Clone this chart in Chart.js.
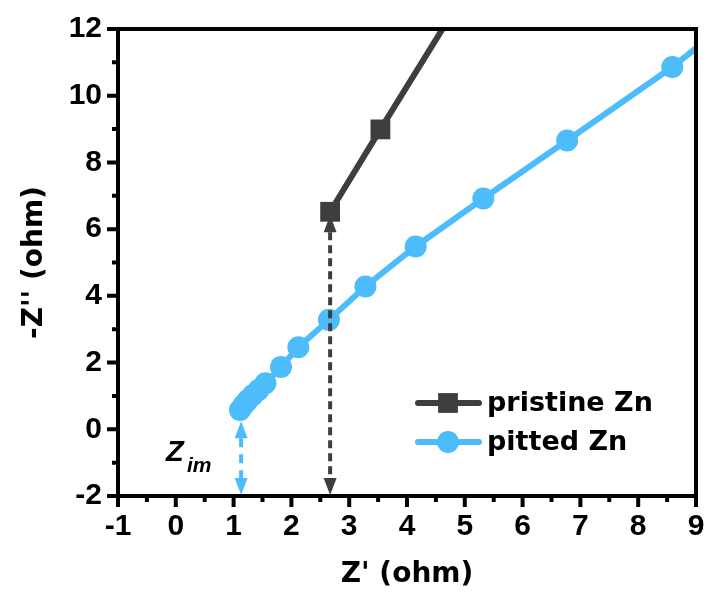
<!DOCTYPE html>
<html lang="en">
<head>
<meta charset="UTF-8">
<title>Nyquist plot - pristine vs pitted Zn</title>
<script src="https://cdn.jsdelivr.net/npm/chart.js"></script>
<style>
    html, body { margin: 0; padding: 0; background: #fff; }
    #nyquist { display: block; }
</style>
</head>
<body>
<canvas id="nyquist" width="710" height="601"></canvas>
<script>
    // values (ohm)
    const seriesNames = ['pristine Zn', 'pitted Zn'];
    const pristineX = [2.67, 3.54, 4.90];
    const pristineY = [6.52, 8.99, 12.8];
    const pittedX = [1.11, 1.17, 1.24, 1.33, 1.43, 1.55, 1.82, 2.12, 2.65, 3.28, 4.15, 5.32, 6.77, 8.59, 10.5];
    const pittedY = [0.58, 0.72, 0.86, 1.02, 1.18, 1.38, 1.87, 2.46, 3.28, 4.28, 5.48, 6.92, 8.66, 10.86, 13.5];
    const xTicks = [-1, 0, 1, 2, 3, 4, 5, 6, 7, 8, 9];
    const yTicks = [-2, 0, 2, 4, 6, 8, 10, 12];

    // dashed double arrows marking Z_im on the real axis
    const arrowX = [1.13, 2.67];
    const arrowTop = [0.24, 6.42];

    const darkGray = '#3e3e3e';
    const skyBlue = '#4dbcfa';
    const tickFont = { family: 'Liberation Sans', weight: 'bold', size: 30 };
    const titleFont = { family: 'DejaVu Sans', weight: 'bold', size: 28 };

    function toPoints(xs, ys) {
        return xs.map((x, i) => ({ x: x, y: ys[i] }));
    }

    function drawArrow(ctx, x, yTop, yBottom, color, dash) {
        const head = 17, half = 6.5;
        ctx.save();
        ctx.strokeStyle = color;
        ctx.fillStyle = color;
        ctx.lineWidth = 4;
        ctx.setLineDash(dash);
        ctx.beginPath();
        ctx.moveTo(x, yTop + head);
        ctx.lineTo(x, yBottom - head);
        ctx.stroke();
        ctx.setLineDash([]);
        ctx.beginPath();
        ctx.moveTo(x, yTop);
        ctx.lineTo(x - half, yTop + head);
        ctx.lineTo(x + half, yTop + head);
        ctx.closePath();
        ctx.fill();
        ctx.beginPath();
        ctx.moveTo(x, yBottom);
        ctx.lineTo(x - half, yBottom - head);
        ctx.lineTo(x + half, yBottom - head);
        ctx.closePath();
        ctx.fill();
        ctx.restore();
    }

    const decorations = {
        id: 'decorations',
        afterDatasetsDraw(chart) {
            const ctx = chart.ctx;
            const area = chart.chartArea;
            const xs = chart.scales.x, ys = chart.scales.y;

            // Z_im arrows
            drawArrow(ctx, xs.getPixelForValue(arrowX[0]), ys.getPixelForValue(arrowTop[0]), area.bottom - 1, skyBlue, [9, 7]);
            drawArrow(ctx, xs.getPixelForValue(arrowX[1]), ys.getPixelForValue(arrowTop[1]), area.bottom - 1, darkGray, [8, 5]);

            // frame
            ctx.save();
            ctx.strokeStyle = '#000';
            ctx.lineWidth = 4;
            ctx.strokeRect(area.left, area.top, area.right - area.left, area.bottom - area.top);

            // major and minor tick marks, pointing out
            ctx.lineWidth = 4;
            ctx.beginPath();
            xTicks.forEach((v, i) => {
                const px = xs.getPixelForValue(v);
                ctx.moveTo(px, area.bottom);
                ctx.lineTo(px, area.bottom + 11);
                if (i < xTicks.length - 1) {
                    const mx = xs.getPixelForValue(v + 0.5);
                    ctx.moveTo(mx, area.bottom);
                    ctx.lineTo(mx, area.bottom + 6);
                }
            });
            yTicks.forEach((v, i) => {
                const py = ys.getPixelForValue(v);
                ctx.moveTo(area.left, py);
                ctx.lineTo(area.left - 11, py);
                if (i < yTicks.length - 1) {
                    const my = ys.getPixelForValue(v + 1);
                    ctx.moveTo(area.left, my);
                    ctx.lineTo(area.left - 6, my);
                }
            });
            ctx.stroke();

            // Z_im label
            ctx.fillStyle = '#000';
            ctx.textBaseline = 'alphabetic';
            ctx.font = 'italic bold 29px "Liberation Sans"';
            ctx.fillText('Z', 166, 461);
            ctx.font = 'italic bold 21px "Liberation Sans"';
            ctx.fillText('im', 187, 472);

            // legend
            const legendY = [403, 442];
            chart.data.datasets.forEach((ds, i) => {
                const y = legendY[i];
                ctx.strokeStyle = ds.borderColor;
                ctx.fillStyle = ds.backgroundColor;
                ctx.lineWidth = 6;
                ctx.lineCap = 'round';
                ctx.beginPath();
                ctx.moveTo(418, y);
                ctx.lineTo(479, y);
                ctx.stroke();
                Chart.helpers.drawPoint(ctx, { pointStyle: ds.pointStyle, radius: ds.pointRadius, rotation: 0, borderWidth: 0 }, 448, y);
                ctx.fillStyle = '#000';
                ctx.font = 'bold 27px "DejaVu Sans"';
                ctx.textBaseline = 'middle';
                ctx.fillText(seriesNames[i], 487, y + 1);
            });
            ctx.restore();
        }
    };

    new Chart(document.getElementById('nyquist'), {
        type: 'scatter',
        data: {
            datasets: [
                {
                    label: seriesNames[0],
                    data: toPoints(pristineX, pristineY),
                    showLine: true,
                    borderColor: darkGray,
                    backgroundColor: darkGray,
                    borderWidth: 6,
                    pointStyle: 'rect',
                    pointRadius: 14,
                    pointBorderWidth: 0,
                    clip: 0
                },
                {
                    label: seriesNames[1],
                    data: toPoints(pittedX, pittedY),
                    showLine: true,
                    borderColor: skyBlue,
                    backgroundColor: skyBlue,
                    borderWidth: 6,
                    pointStyle: 'circle',
                    pointRadius: 11,
                    pointBorderWidth: 0,
                    clip: 0
                }
            ]
        },
        options: {
            responsive: false,
            animation: false,
            devicePixelRatio: 1,
            layout: { padding: { top: 29, right: 13, left: 0, bottom: 0 } },
            plugins: {
                legend: { display: false },
                tooltip: { enabled: false }
            },
            scales: {
                x: {
                    type: 'linear',
                    min: -1,
                    max: 9,
                    afterBuildTicks: s => { s.ticks = xTicks.map(v => ({ value: v })); },
                    afterFit: s => { s.height = 105; s.paddingLeft = 0; s.paddingRight = 0; },
                    grid: { display: false, drawTicks: false },
                    border: { display: false },
                    ticks: { font: tickFont, color: '#000', padding: 13, maxRotation: 0, autoSkip: false },
                    title: { display: true, text: "Z' (ohm)", font: titleFont, color: '#000', padding: { top: 0, bottom: 9 } }
                },
                y: {
                    type: 'linear',
                    min: -2,
                    max: 12,
                    afterBuildTicks: s => { s.ticks = yTicks.map(v => ({ value: v })); },
                    afterFit: s => { s.width = 118; s.paddingTop = 0; s.paddingBottom = 0; },
                    grid: { display: false, drawTicks: false },
                    border: { display: false },
                    ticks: { font: tickFont, color: '#000', padding: 16, autoSkip: false },
                    title: { display: true, text: "-Z'' (ohm)", font: titleFont, color: '#000', padding: { top: 18, bottom: 0 } }
                }
            }
        },
        plugins: [decorations]
    });
</script>
</body>
</html>
